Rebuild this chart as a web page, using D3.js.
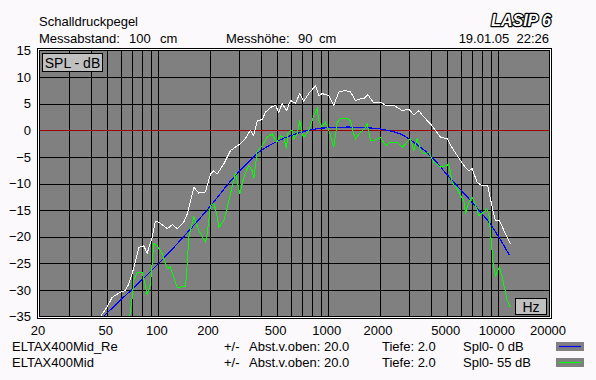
<!DOCTYPE html>
<html>
<head>
<meta charset="utf-8">
<script src="https://cdn.jsdelivr.net/npm/d3@7"></script>
<style>
  html, body { margin: 0; padding: 0; background: #fbf9fc; }
  svg { display: block; font-family: "Liberation Sans", Arial, sans-serif; }
</style>
</head>
<body>
<div id="chart"></div>
<script>
// tick labels / grid
const freqTicks = [20, 50, 100, 200, 500, 1000, 2000, 5000, 10000, 20000];
const gridFreqs = [30, 40, 50, 60, 70, 80, 90, 100, 200, 300, 400, 500, 600, 700, 800, 900,
  1000, 2000, 3000, 4000, 5000, 6000, 7000, 8000, 9000, 10000];
const dbTicks = [15, 10, 5, 0, -5, -10, -15, -20, -25, -30, -35];

// ELTAX400Mid_Re (blue)  [Hz, dB]
const blueCurve = [[47.5, -35], [60, -31.9], [75, -29], [98.5, -25.3], [140, -20.1], [203, -14.2],
  [270, -9.3], [348, -5.6], [398, -3.9], [522, -1.8], [686, -0.4], [855, 0.3], [1100, 0.55],
  [1344, 0.6], [1650, 0.5], [2013, 0.25], [2660, -0.7], [3360, -2.8], [4023, -4.9],
  [5237, -9.1], [6857, -13.2], [8960, -17.6], [11640, -23.5]];

// ELTAX400Mid (green)
const greenCurve = [[67.9, -35], [70.2, -31.4], [71.7, -28.2], [75.1, -26.7], [80.4, -26.7],
  [82.9, -28.5], [86, -30.9], [89.9, -28.9], [94, -21.3], [98.5, -21.7], [105.4, -23.2],
  [112.8, -26], [117.9, -25.7], [129, -29.5], [144.5, -29.4], [147.9, -25.1], [151, -20.1],
  [161.7, -16.3], [173, -18.8], [189.5, -21], [193.9, -19.5], [202.7, -14.1], [212, -13.8],
  [219.9, -15.4], [226.9, -18.2], [242.7, -17], [265.9, -11.9], [284.5, -7.9], [301.5, -11.9],
  [318.4, -8.8], [340.5, -6.6], [356.6, -7.6], [364.5, -9.1], [381.8, -3.8], [408.4, -2.9],
  [436.7, -1.3], [467.5, -0.66], [488.8, -1.9], [500, -2.2], [523.4, -1], [547.3, -1.3],
  [567.5, -3.5], [577.5, -0.66], [599, 0], [613, 0], [626.7, -1.6], [656, -0.66], [679.5, 1.84],
  [702, -0.66], [717, -1.3], [767.5, 0], [821.5, 2.78], [860, 4.04], [879, 1.84], [920, 0.6],
  [962, 1.5], [1007, 0], [1054, -2.2], [1077, -3.2], [1127, 1.5], [1179, 2.2], [1291, 2.2],
  [1350, 1.84], [1401, -0.35], [1445, -1.6], [1546, -0.35], [1633, 0.28], [1693, 1.2],
  [1770, -1.9], [1851, -1.9], [2027, -1.3], [2169, -2.9], [2322, -2.2], [2541, -2.2],
  [2720, -3.2], [2911, -2.2], [3044, -1.6], [3184, -3.8], [3334, -1.6], [3486, -3.8],
  [3644, -4.4], [3899, -4.2], [4173, -6], [4570, -6.9], [5000, -6.6], [5112, -6.3],
  [5354, -9.8], [5729, -11], [5992, -12.3], [6266, -13.2], [6412, -15.7], [6700, -13.5],
  [7016, -12.6], [7179, -13.2], [7678, -16], [8216, -15.4], [8516, -14.8], [8790, -15.7],
  [9080, -20.7], [9330, -25.1], [9628, -27.3], [10164, -25.7], [10542, -27.6], [11275, -32],
  [11794, -33.3]];

// white reference curve
const whiteCurve = [[45.7, -35], [50, -33.2], [53.5, -31.4], [60, -30.4], [64, -30.1], [67, -28.9],
  [72, -25.7], [77, -22], [82, -21.7], [86, -23.1], [92, -20.1], [96, -17.1], [101, -17.3],
  [113, -18.5], [121, -17.7], [129, -18.5], [141, -17.3], [148, -15.7], [162, -10.7], [173, -11.8],
  [189, -11.6], [203, -8.2], [212, -7.6], [222, -8.2], [243, -6.3], [266, -3.8], [304, -2.5],
  [326, -1.5], [348, 0], [364, -1], [382, 1.8], [408, 2], [427, 3.4], [457, 4.3], [489, 4.7],
  [511, 3.4], [535, 5], [568, 3.7], [599, 5.6], [641, 5.1], [679, 6.9], [717, 5.5], [767, 6.9],
  [841, 8.4], [879, 6.5], [920, 6.9], [1007, 6.5], [1077, 4.7], [1152, 7.2], [1262, 7.5],
  [1350, 7.2], [1445, 5.6], [1546, 5.9], [1617, 5.9], [1707, 6.7], [1836, 5.3], [2027, 5.3],
  [2168, 4.7], [2428, 4.7], [2720, 3.7], [2974, 4], [3184, 2.9], [3406, 3.7], [3644, 2.5],
  [3990, 1.2], [4570, -1.3], [5000, -1.6], [5470, -3.8], [6266, -6.6], [6700, -7.6], [7016, -7.2],
  [7510, -9.8], [8036, -10.4], [8670, -10.4], [9206, -14.5], [9628, -17], [10164, -17],
  [11016, -19.5], [11794, -21.3]];

// legend rows
const legendNames = ["ELTAX400Mid_Re", "ELTAX400Mid"];
const legendSpl = ["Spl0- 0 dB", "Spl0- 55 dB"];
const legendColors = ["#0000ff", "#00ff00"];

/////////////////////////////
const W = 596, H = 380;
const plotLeft = 39.5, plotRight = 549.5, plotTop = 50.5, plotBottom = 316.5;

const svg = d3.select("#chart").append("svg")
  .attr("width", W)
  .attr("height", H);

const x = d3.scaleLog().domain([20, 20000]).range([plotLeft, plotRight]);
const y = d3.scaleLinear().domain([-35, 15]).range([plotBottom, plotTop]);

/////////////////////////////
// frame: black / white / black
svg.append("rect").attr("x", plotLeft - 2).attr("y", plotTop - 2)
  .attr("width", plotRight - plotLeft + 4).attr("height", plotBottom - plotTop + 4)
  .attr("fill", "none").attr("stroke", "#000");
svg.append("rect").attr("x", plotLeft - 1).attr("y", plotTop - 1)
  .attr("width", plotRight - plotLeft + 2).attr("height", plotBottom - plotTop + 2)
  .attr("fill", "none").attr("stroke", "#fff");
svg.append("rect").attr("x", plotLeft).attr("y", plotTop)
  .attr("width", plotRight - plotLeft).attr("height", plotBottom - plotTop)
  .attr("fill", "#808080").attr("stroke", "#000");

/////////////////////////////
// grid
svg.append("g")
  .attr("transform", `translate(0,${plotBottom})`)
  .call(d3.axisBottom(x).tickValues(gridFreqs).tickSize(-(plotBottom - plotTop)).tickFormat(""))
  .call(g => g.select(".domain").remove())
  .call(g => g.selectAll("line").attr("stroke", "#000").attr("shape-rendering", "crispEdges"));

svg.append("g")
  .attr("transform", `translate(${plotLeft},0)`)
  .call(d3.axisLeft(y).tickValues(dbTicks.slice(1, -1)).tickSize(-(plotRight - plotLeft)).tickFormat(""))
  .call(g => g.select(".domain").remove())
  .call(g => g.selectAll("line").attr("stroke", "#000").attr("shape-rendering", "crispEdges"));

// 0 dB line
svg.append("line")
  .attr("x1", plotLeft + 0.5).attr("x2", plotRight - 0.5)
  .attr("y1", Math.round(y(0)) + 0.5).attr("y2", Math.round(y(0)) + 0.5)
  .attr("stroke", "#a00000");

/////////////////////////////
// tick labels
svg.append("g")
  .attr("transform", `translate(${plotLeft},0)`)
  .call(d3.axisLeft(y).tickValues(dbTicks).tickSize(0).tickPadding(8.5))
  .call(g => g.select(".domain").remove())
  .call(g => g.selectAll("text")
    .attr("font-family", "'Liberation Sans', Arial, sans-serif")
    .attr("font-size", 13).attr("fill", "#000"));

svg.append("g")
  .attr("transform", `translate(0,${plotBottom})`)
  .call(d3.axisBottom(x).tickValues(freqTicks).tickSize(0).tickPadding(9.5).tickFormat(d3.format("d")))
  .call(g => g.select(".domain").remove())
  .call(g => g.selectAll("text")
    .attr("x", -2)
    .attr("font-family", "'Liberation Sans', Arial, sans-serif")
    .attr("font-size", 13).attr("fill", "#000"));

/////////////////////////////
// curves
svg.append("clipPath").attr("id", "plot-clip")
  .append("rect").attr("x", plotLeft).attr("y", plotTop)
  .attr("width", plotRight - plotLeft).attr("height", plotBottom - plotTop);

const curves = svg.append("g").attr("clip-path", "url(#plot-clip)");

const line = d3.line().x(d => x(d[0])).y(d => y(d[1]));
const smooth = d3.line().x(d => x(d[0])).y(d => y(d[1])).curve(d3.curveCatmullRom.alpha(0.5));

curves.append("path").datum(whiteCurve)
  .attr("d", line).attr("fill", "none").attr("stroke", "#fff").attr("stroke-width", 1)
  .attr("shape-rendering", "crispEdges");
curves.append("path").datum(blueCurve)
  .attr("d", smooth).attr("fill", "none").attr("stroke", "#0000ff").attr("stroke-width", 1.2)
  .attr("shape-rendering", "crispEdges");
curves.append("path").datum(greenCurve)
  .attr("d", line).attr("fill", "none").attr("stroke", "#00ff00").attr("stroke-width", 1)
  .attr("shape-rendering", "crispEdges");

/////////////////////////////
// label boxes
function labelBox(x0, y0, w, h, txt) {
  svg.append("rect").attr("x", x0 + 0.5).attr("y", y0 + 0.5)
    .attr("width", w).attr("height", h)
    .attr("fill", "#c0c0c0").attr("stroke", "#000");
  svg.append("text").attr("x", x0 + w / 2 + 0.5).attr("y", y0 + h / 2 + 5.5)
    .attr("text-anchor", "middle").attr("font-size", 14).text(txt);
}
labelBox(42, 53, 60, 18, "SPL - dB");
labelBox(515, 298, 31, 16, "Hz");

/////////////////////////////
// header
const hdr = svg.append("g").attr("font-size", 13).attr("fill", "#000");
hdr.append("text").attr("x", 39).attr("y", 26).text("Schalldruckpegel");
hdr.append("text").attr("x", 39).attr("y", 43).text("Messabstand:");
hdr.append("text").attr("x", 129).attr("y", 43).text("100");
hdr.append("text").attr("x", 160).attr("y", 43).text("cm");
hdr.append("text").attr("x", 226).attr("y", 43).text("Messhöhe:");
hdr.append("text").attr("x", 298).attr("y", 43).text("90");
hdr.append("text").attr("x", 319).attr("y", 43).text("cm");
hdr.append("text").attr("x", 549).attr("y", 43).attr("text-anchor", "end").text("19.01.05  22:26")
  .style("white-space", "pre");

svg.append("text").attr("x", 551).attr("y", 26).attr("text-anchor", "end")
  .attr("font-size", 16).attr("font-weight", "bold").attr("font-style", "italic")
  .attr("fill", "#fff").attr("stroke", "#000").attr("stroke-width", 2.4)
  .attr("paint-order", "stroke").attr("stroke-linejoin", "round")
  .text("LASIP 6");

/////////////////////////////
// legend
const leg = svg.append("g").attr("font-size", 13).attr("fill", "#000");
legendNames.forEach((name, i) => {
  const by = 351 + i * 16;
  leg.append("text").attr("x", 12).attr("y", by).text(name);
  leg.append("text").attr("x", 224).attr("y", by).text("+/-");
  leg.append("text").attr("x", 249).attr("y", by).text("Abst.v.oben: 20.0");
  leg.append("text").attr("x", 382).attr("y", by).text("Tiefe: 2.0");
  leg.append("text").attr("x", 463).attr("y", by).text(legendSpl[i]);
  leg.append("rect").attr("x", 556).attr("y", by - 9).attr("width", 28).attr("height", 9)
    .attr("fill", "#808080");
  leg.append("line").attr("x1", 559).attr("x2", 581)
    .attr("y1", by - 4.5).attr("y2", by - 4.5)
    .attr("stroke", legendColors[i]).attr("stroke-width", 1.2);
});
</script>
</body>
</html>
